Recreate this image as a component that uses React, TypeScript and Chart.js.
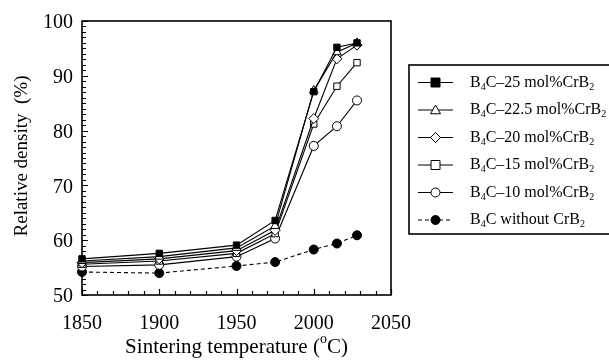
import { useEffect, useRef } from 'react';
import { Chart, registerables } from 'chart.js';

Chart.register(...registerables);

const temperatures = [1850, 1900, 1950, 1975, 2000, 2015, 2028];
const crb2_25 = [56.6, 57.6, 59.1, 63.6, 87.1, 95.2, 96.0];
const crb2_22_5 = [56.2, 57.0, 58.6, 62.6, 87.3, 94.3, 96.0];
const crb2_20 = [55.9, 56.6, 58.1, 61.8, 82.2, 93.1, 95.6];
const crb2_15 = [55.6, 56.2, 57.6, 61.2, 81.2, 88.1, 92.4];
const crb2_10 = [55.2, 55.5, 57.0, 60.3, 77.2, 80.8, 85.5];
const noCrb2 = [54.2, 54.0, 55.3, 56.0, 58.3, 59.4, 60.9];

const xTicks = [1850, 1900, 1950, 2000, 2050];
const yTicks = [50, 60, 70, 80, 90, 100];

const legendLabels = [
  'B_4C–25 mol%CrB_2',
  'B_4C–22.5 mol%CrB_2',
  'B_4C–20 mol%CrB_2',
  'B_4C–15 mol%CrB_2',
  'B_4C–10 mol%CrB_2',
  'B_4C without CrB_2',
];

const xTitle = 'Sintering temperature (^oC)';
const yTitle = 'Relative density  (%)';

const FONT = "'Liberation Serif', 'Times New Roman', serif";

type Style = { pointStyle: string; fill: string; dash: number[] };
const styles: Style[] = [
  { pointStyle: 'rect', fill: '#000', dash: [] },
  { pointStyle: 'triangle', fill: '#fff', dash: [] },
  { pointStyle: 'rectRot', fill: '#fff', dash: [] },
  { pointStyle: 'rect', fill: '#fff', dash: [] },
  { pointStyle: 'circle', fill: '#fff', dash: [] },
  { pointStyle: 'circle', fill: '#000', dash: [4, 3] },
];
const radii = [4.5, 5, 5, 4.5, 4.5, 4.5];

const seriesValues = [crb2_25, crb2_22_5, crb2_20, crb2_15, crb2_10, noCrb2];

function drawRich(ctx: CanvasRenderingContext2D, text: string, x: number, y: number, size: number) {
  let cx = x;
  let i = 0;
  while (i < text.length) {
    const c = text[i];
    if ((c === '_' || c === '^') && i + 1 < text.length) {
      const ch = text[i + 1];
      const s = Math.round(size * 0.65);
      ctx.font = `${s}px ${FONT}`;
      const dy = c === '_' ? size * 0.28 : -size * 0.38;
      ctx.fillText(ch, cx, y + dy);
      cx += ctx.measureText(ch).width;
      i += 2;
    } else {
      let j = i;
      while (j < text.length && text[j] !== '_' && text[j] !== '^') j++;
      const seg = text.slice(i, j);
      ctx.font = `${size}px ${FONT}`;
      ctx.fillText(seg, cx, y);
      cx += ctx.measureText(seg).width;
      i = j;
    }
  }
  return cx - x;
}

function measureRich(ctx: CanvasRenderingContext2D, text: string, size: number) {
  ctx.save();
  ctx.globalAlpha = 0;
  const w = drawRich(ctx, text, 0, 0, size);
  ctx.restore();
  return w;
}

const framePlugin = {
  id: 'frame',
  beforeDatasetsDraw(chart: any) {
    const ctx: CanvasRenderingContext2D = chart.ctx;
    const { left, right, top, bottom } = chart.chartArea;
    const xs = chart.scales.x;
    const ys = chart.scales.y;
    ctx.save();
    ctx.strokeStyle = '#000';
    ctx.lineWidth = 1.6;
    ctx.strokeRect(left, top, right - left, bottom - top);
    ctx.lineWidth = 1.2;
    ctx.beginPath();
    for (let v = xTicks[0]; v <= xTicks[xTicks.length - 1]; v += 10) {
      const px = Math.round(xs.getPixelForValue(v)) + 0.5;
      const len = (v - xTicks[0]) % 50 === 0 ? 6 : 4;
      ctx.moveTo(px, bottom);
      ctx.lineTo(px, bottom - len);
    }
    for (let v = yTicks[0]; v <= yTicks[yTicks.length - 1]; v += 1) {
      const py = Math.round(ys.getPixelForValue(v)) + 0.5;
      const len = (v - yTicks[0]) % 10 === 0 ? 6 : 4;
      ctx.moveTo(left, py);
      ctx.lineTo(left + len, py);
    }
    ctx.stroke();
    ctx.restore();
  },
  afterDraw(chart: any) {
    const ctx: CanvasRenderingContext2D = chart.ctx;
    const { left, right } = chart.chartArea;
    ctx.save();
    ctx.fillStyle = '#000';
    ctx.textBaseline = 'middle';
    ctx.textAlign = 'left';
    const xw = measureRich(ctx, xTitle, 21);
    drawRich(ctx, xTitle, (left + right) / 2 - xw / 2, 347, 21);
    ctx.save();
    ctx.translate(22, 156);
    ctx.rotate(-Math.PI / 2);
    const yw = measureRich(ctx, yTitle, 19);
    drawRich(ctx, yTitle, -yw / 2, 0, 19);
    ctx.restore();

    ctx.strokeStyle = '#000';
    ctx.lineWidth = 1.6;
    ctx.strokeRect(409, 65, 205, 169);
    const rowY0 = 82.5;
    const rowH = 27.5;
    legendLabels.forEach((lab, i) => {
      const y = rowY0 + i * rowH;
      const st = styles[i];
      ctx.save();
      ctx.lineWidth = 1;
      ctx.setLineDash(st.dash);
      ctx.beginPath();
      ctx.moveTo(418, y);
      ctx.lineTo(453, y);
      ctx.stroke();
      ctx.setLineDash([]);
      ctx.fillStyle = st.fill;
      ctx.lineWidth = 1;
      const r = radii[i];
      ctx.beginPath();
      if (st.pointStyle === 'rect') {
        ctx.rect(435.5 - r, y - r, 2 * r, 2 * r);
      } else if (st.pointStyle === 'circle') {
        ctx.arc(435.5, y, r, 0, Math.PI * 2);
      } else if (st.pointStyle === 'triangle') {
        ctx.moveTo(435.5, y - r);
        ctx.lineTo(435.5 + r, y + r * 0.75);
        ctx.lineTo(435.5 - r, y + r * 0.75);
        ctx.closePath();
      } else {
        ctx.moveTo(435.5, y - r);
        ctx.lineTo(435.5 + r, y);
        ctx.lineTo(435.5, y + r);
        ctx.lineTo(435.5 - r, y);
        ctx.closePath();
      }
      ctx.fill();
      ctx.stroke();
      ctx.restore();
      ctx.fillStyle = '#000';
      ctx.textBaseline = 'middle';
      drawRich(ctx, lab, 470, y, 16);
    });
    ctx.restore();
  },
};

export default function App() {
  const ref = useRef<HTMLCanvasElement | null>(null);
  useEffect(() => {
    if (!ref.current) return;
    const datasets = seriesValues.map((vals, i) => ({
      label: legendLabels[i],
      data: vals.map((v, k) => ({ x: temperatures[k], y: v })),
      borderColor: '#000',
      borderWidth: 1.1,
      borderDash: styles[i].dash,
      pointStyle: styles[i].pointStyle,
      pointRadius: radii[i],
      pointBackgroundColor: styles[i].fill,
      pointBorderColor: '#000',
      pointBorderWidth: 1,
      tension: 0,
      clip: false,
    }));
    const chart = new Chart(ref.current, {
      type: 'line',
      data: { datasets: datasets as any },
      options: {
        animation: false,
        responsive: false,
        events: [],
        layout: { padding: { left: 0, top: 20, right: 218, bottom: 0 } },
        plugins: { legend: { display: false }, tooltip: { enabled: false } },
        scales: {
          x: {
            type: 'linear',
            min: 1850,
            max: 2050,
            afterFit: (s: any) => { s.height = 66; },
            afterBuildTicks: (s: any) => { s.ticks = xTicks.map((v) => ({ value: v })); },
            grid: { display: false, drawTicks: false },
            border: { display: false },
            ticks: { color: '#000', font: { family: FONT, size: 20 }, padding: 17, maxRotation: 0, callback: (v: any) => String(v) },
          },
          y: {
            type: 'linear',
            min: 50,
            max: 100,
            afterFit: (s: any) => { s.width = 82; },
            afterBuildTicks: (s: any) => { s.ticks = yTicks.map((v) => ({ value: v })); },
            grid: { display: false, drawTicks: false },
            border: { display: false },
            ticks: { color: '#000', font: { family: FONT, size: 20 }, padding: 9, labelOffset: 2, callback: (v: any) => String(v) },
          },
        },
      },
      plugins: [framePlugin],
    });
    return () => chart.destroy();
  }, []);
  return (
    <div style={{ position: 'absolute', left: 0, top: 0, width: 609, height: 361, background: '#fff' }}>
      <canvas ref={ref} width={609} height={361} style={{ width: 609, height: 361, display: 'block' }} />
    </div>
  );
}
